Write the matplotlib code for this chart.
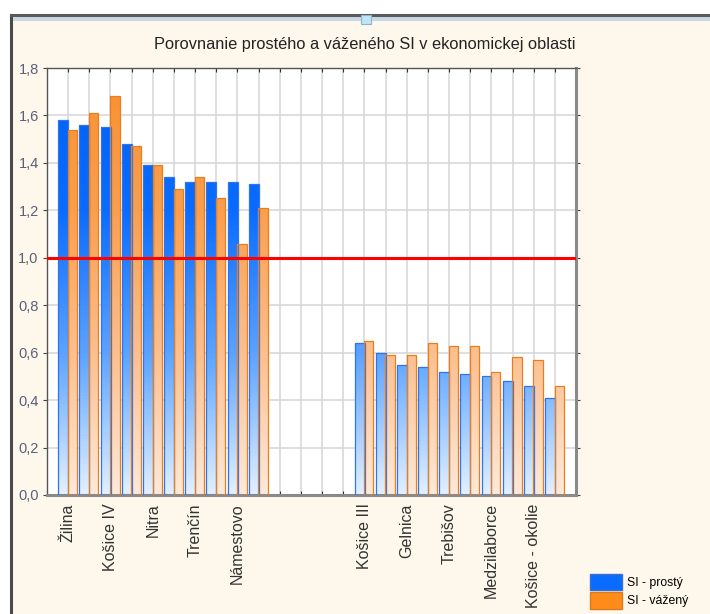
import matplotlib.pyplot as plt
import numpy as np
from matplotlib.colors import LinearSegmentedColormap
from matplotlib.patches import Patch, Rectangle
from matplotlib.ticker import FuncFormatter, MultipleLocator

plt.rcParams["font.family"] = ["Liberation Sans", "DejaVu Sans"]

title = "Porovnanie prostého a váženého SI v ekonomickej oblasti"
series_names = ["SI - prostý", "SI - vážený"]

# 24 slots on the axis: 10 districts, 4 empty slots, 10 districts
labels = [
    "Žilina", "", "Košice IV", "", "Nitra", "", "Trenčín", "", "Námestovo", "",
    "", "", "", "",
    "Košice III", "", "Gelnica", "", "Trebišov", "", "Medzilaborce", "",
    "Košice - okolie", "",
]
nan = np.nan
si_simple = [
    1.58, 1.56, 1.55, 1.48, 1.39, 1.34, 1.32, 1.32, 1.32, 1.31,
    nan, nan, nan, nan,
    0.64, 0.60, 0.55, 0.54, 0.52, 0.51, 0.50, 0.48, 0.46, 0.41,
]
si_weighted = [
    1.54, 1.61, 1.68, 1.47, 1.39, 1.29, 1.34, 1.25, 1.06, 1.21,
    nan, nan, nan, nan,
    0.65, 0.59, 0.59, 0.64, 0.63, 0.63, 0.52, 0.58, 0.57, 0.46,
]
threshold = 1.0

blue_map = LinearSegmentedColormap.from_list("b", ["#e2f0ff", "#5aa2ff", "#0a6cff", "#0060f5"])
orange_map = LinearSegmentedColormap.from_list("o", ["#fee9d8", "#fcbf8e", "#fb9f4d", "#f98f30"])


def gradient_bars(ax, bars, cmap):
    for rect in bars:
        h = rect.get_height()
        if np.isnan(h):
            continue
        x0 = rect.get_x()
        grad = np.linspace(0, h, 120).reshape(-1, 1)
        img = ax.imshow(grad, extent=[x0, x0 + rect.get_width(), 0, h], origin="lower",
                        cmap=cmap, vmin=0, vmax=1.8, aspect="auto", zorder=2.5)
        img.set_clip_path(rect)


fig = plt.figure(figsize=(7.1, 6.14), dpi=100, facecolor="white")

# window frame
fig.patches.append(Rectangle((11 / 710, 0), 1, 1 - 15 / 614, transform=fig.transFigure,
                             facecolor="#fdf8eb", edgecolor="none", zorder=-3))
fig.patches.append(Rectangle((13 / 710, 1 - 21 / 614), 1, 5 / 614, transform=fig.transFigure,
                             facecolor="#c9d8e6", edgecolor="none", zorder=-2))
fig.lines.append(plt.Line2D([11 / 710, 11 / 710], [0, 1 - 15 / 614], transform=fig.transFigure,
                            color="#4a4a4a", lw=2.2, zorder=-1))
fig.lines.append(plt.Line2D([11 / 710, 1], [1 - 15 / 614, 1 - 15 / 614], transform=fig.transFigure,
                            color="#5a5a5a", lw=2.2, zorder=-1))
fig.patches.append(Rectangle((361 / 710, 1 - 24 / 614), 10 / 710, 9 / 614, transform=fig.transFigure,
                             facecolor="#bfe6f7", edgecolor="#8fb4c8", lw=0.8, zorder=-1))

ax = fig.add_axes([47 / 710, 1 - 495 / 614, 529 / 710, 427 / 614])
ax.set_facecolor("white")

x = np.arange(len(labels))
b1 = ax.bar(x - 0.23, si_simple, width=0.47, color="none", edgecolor="#2f74e8", lw=0.9, zorder=3)
b2 = ax.bar(x + 0.21, si_weighted, width=0.44, color="none", edgecolor="#e57f22", lw=0.9, zorder=3)
gradient_bars(ax, b1, blue_map)
gradient_bars(ax, b2, orange_map)

ax.axhline(threshold, color="#ff0000", lw=2.2, zorder=4)

ax.set_xlim(-1, len(labels))
ax.set_ylim(0, 1.8)
ax.yaxis.set_major_locator(MultipleLocator(0.2))
ax.yaxis.set_major_formatter(FuncFormatter(lambda v, p: f"{v:.1f}".replace(".", ",")))
ax.set_xticks(x)
ax.set_xticklabels(labels, rotation=90, fontsize=11.5, color="#333333")
ax.grid(True, color="#d6d6d6", lw=1.1, zorder=0)
ax.set_axisbelow(True)

ax.tick_params(axis="y", direction="out", length=3, labelsize=10.5, labelcolor="#5a6078",
               color="#444444", pad=3, right=True)
ax.tick_params(axis="x", direction="in", length=3, color="#333333", top=True, pad=6)
for side in ["left", "top"]:
    ax.spines[side].set_color("#555555")
    ax.spines[side].set_linewidth(1.0)
for side in ["right", "bottom"]:
    ax.spines[side].set_color("#8a8a8a")
    ax.spines[side].set_linewidth(2.2)

fig.text(0.514, 1 - 45 / 614, title, ha="center", va="center", fontsize=11.8, color="#222222")

handles = [
    Patch(facecolor="#0a6cff", edgecolor="#3a6fd0", label=series_names[0]),
    Patch(facecolor="#ff8c1a", edgecolor="#d87a20", label=series_names[1]),
]
fig.legend(handles=handles, loc="upper left", bbox_to_anchor=(585 / 710, 1 - 569 / 614),
           frameon=False, fontsize=8.8, handlelength=2.6, handleheight=1.7,
           labelspacing=0.15, handletextpad=0.4, borderaxespad=0)

fig.savefig("out.png", dpi=100, facecolor=fig.get_facecolor())
